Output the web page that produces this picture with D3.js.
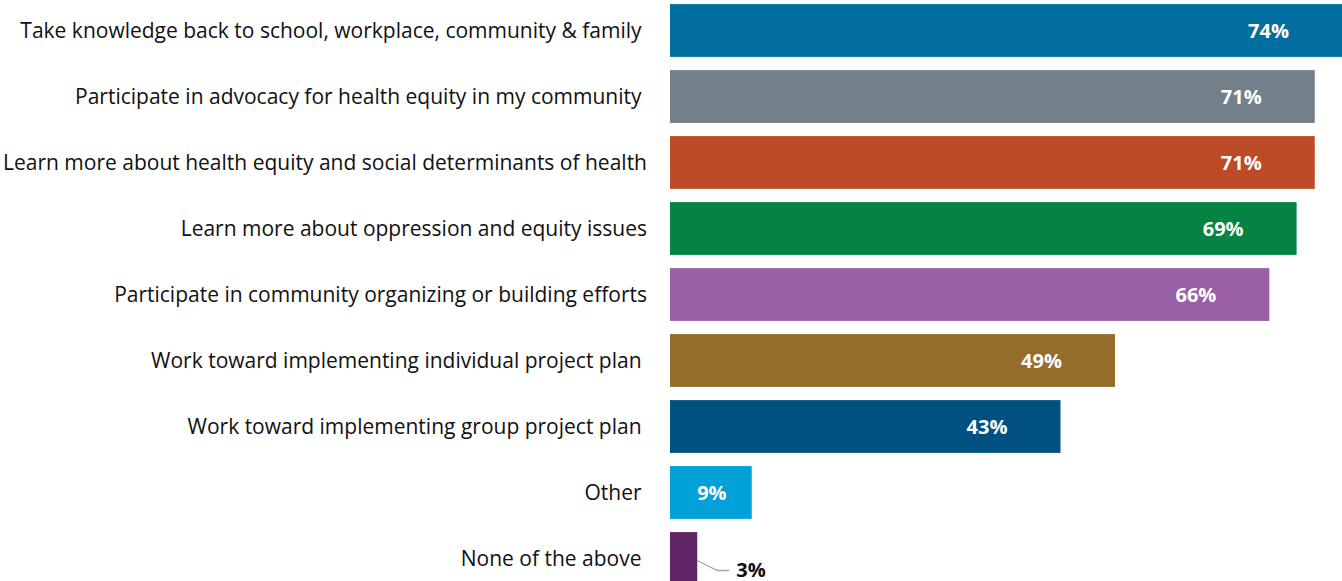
<!DOCTYPE html>
<html>
<head>
<meta charset="utf-8">
<script src="https://cdn.jsdelivr.net/npm/d3@7"></script>
<style>
  html, body { margin: 0; padding: 0; background: #ffffff; }
  svg { display: block; }
  .cat { font-family: "Open Sans", "Noto Sans", sans-serif; font-size: 21px; fill: #111111; white-space: pre; }
  .val { font-family: "Open Sans", "Noto Sans", sans-serif; font-size: 20px; font-weight: 700; }
</style>
</head>
<body>
<svg id="chart" width="1342" height="581"></svg>
<script>
// Activities respondents plan to take part in (share of respondents)
const categories = [
  "Take knowledge back to school, workplace, community & family ",
  "Participate in advocacy for health equity in my community ",
  "Learn more about health equity and social determinants of health",
  "Learn more about oppression and equity issues",
  "Participate in community organizing or building efforts",
  "Work toward implementing individual project plan ",
  "Work toward implementing group project plan ",
  "Other ",
  "None of the above "
];
const values = [74, 71, 71, 69, 66, 49, 43, 9, 3];
const valueLabels = ["74%", "71%", "71%", "69%", "66%", "49%", "43%", "9%", "3%"];
const barColors = [
  "#006fa0", "#738089", "#bd4b27", "#058343", "#9a60a6",
  "#946d2b", "#00517f", "#00a0d8", "#5e2465"
];

const svg = d3.select("#chart");
const width = 1342, height = 581;
const plotLeft = 670;

const x = d3.scaleLinear().domain([0, 74]).range([plotLeft, width]);
const y = d3.scaleBand()
  .domain(categories)
  .range([-2.5, 591.5])
  .paddingInner(0.2)
  .paddingOuter(0.1);

const rows = categories.map((c, i) => ({
  cat: c, value: values[i], label: valueLabels[i], color: barColors[i]
}));

// bars
svg.append("g").selectAll("rect")
  .data(rows)
  .join("rect")
  .attr("x", x(0))
  .attr("y", d => y(d.cat))
  .attr("width", d => x(d.value) - x(0))
  .attr("height", y.bandwidth())
  .attr("fill", d => d.color);

// category axis labels, right-aligned against the bars
const yAxis = d3.axisLeft(y).tickSize(0).tickPadding(23);
const ay = svg.append("g").attr("transform", `translate(${plotLeft},0)`).call(yAxis);
ay.select(".domain").remove();
ay.selectAll("text")
  .attr("class", "cat")
  .attr("font-family", null)
  .attr("font-size", null)
  .attr("fill", null)
  .attr("dy", "0.35em");

// value labels: inside the bar end for long bars, centred in short bars,
// outside with a leader line for the smallest bar
const labels = svg.append("g");
rows.forEach(d => {
  const w = x(d.value) - x(0);
  const cy = y(d.cat) + y.bandwidth() / 2;
  if (w > 150) {
    labels.append("text").attr("class", "val")
      .attr("x", x(d.value) - 53).attr("y", cy).attr("dy", "0.35em")
      .attr("text-anchor", "end").attr("fill", "#ffffff").text(d.label);
  } else if (w > 50) {
    labels.append("text").attr("class", "val")
      .attr("x", (x(0) + x(d.value)) / 2 + 1).attr("y", cy).attr("dy", "0.35em")
      .attr("text-anchor", "middle").attr("fill", "#ffffff").text(d.label);
  } else {
    const lx = x(d.value);
    const ly = cy + 12;
    labels.append("path")
      .attr("d", `M${lx},${cy + 2}L${lx + 20},${ly}L${lx + 32},${ly}`)
      .attr("fill", "none").attr("stroke", "#a6a6a6").attr("stroke-width", 1.3);
    labels.append("text").attr("class", "val")
      .attr("x", lx + 39).attr("y", ly).attr("dy", "0.3em")
      .attr("text-anchor", "start").attr("fill", "#111111").text(d.label);
  }
});
</script>
</body>
</html>
